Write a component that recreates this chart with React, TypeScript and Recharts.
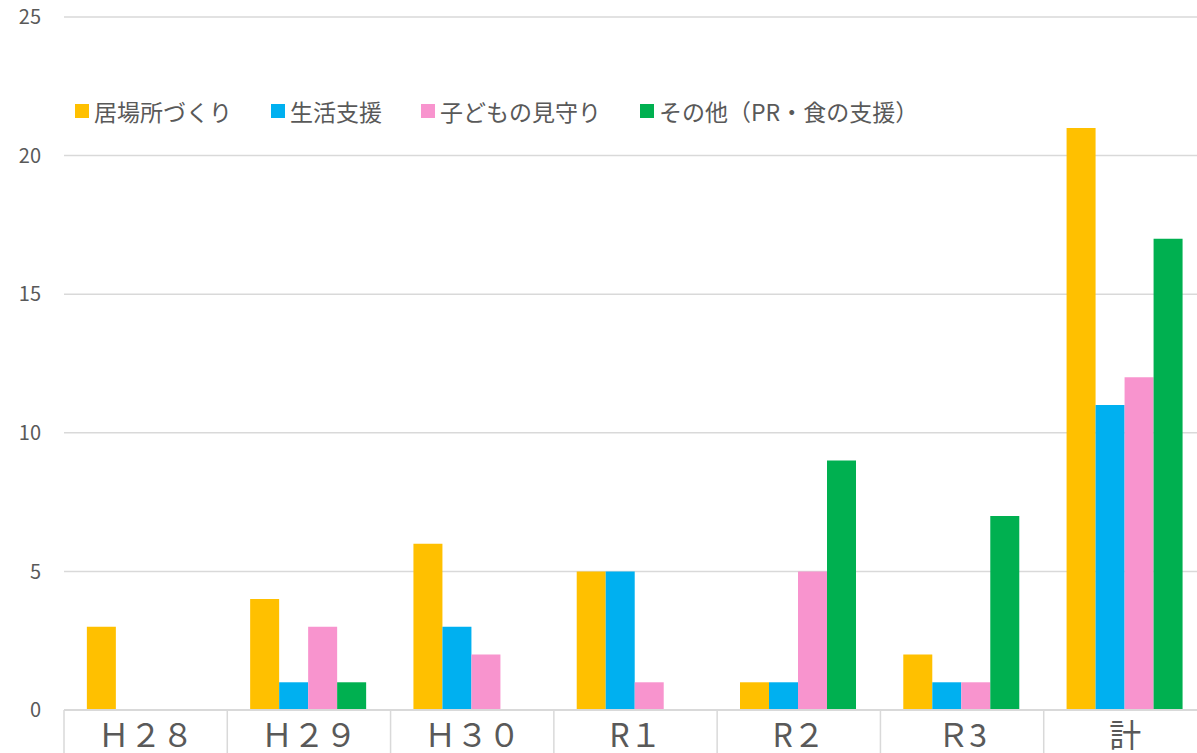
import React from 'react';
import { BarChart, Bar, XAxis, YAxis, CartesianGrid, Legend } from 'recharts';

const categories = ['Ｈ２８', 'Ｈ２９', 'Ｈ３０', 'R１', 'R２', 'Ｒ3', '計'];
const ibasho = [3, 4, 6, 5, 1, 2, 21];
const seikatsu = [0, 1, 3, 5, 1, 1, 11];
const mimamori = [0, 3, 2, 1, 5, 1, 12];
const sonota = [0, 1, 0, 0, 9, 7, 17];
const yTicks = [0, 5, 10, 15, 20, 25];

const seriesNames = ['居場所づくり', '生活支援', '子どもの見守り', 'その他（PR・食の支援）'];
const seriesColors = ['#FFC000', '#00B0F0', '#F894CE', '#00B050'];

const data = categories.map((c, i) => ({
  name: c,
  s0: ibasho[i],
  s1: seikatsu[i],
  s2: mimamori[i],
  s3: sonota[i],
}));

const FONT = '"Noto Sans CJK JP", "Noto Sans", sans-serif';
const CHART_W = 1215;
const CHART_H = 770;
const LEFT = 64;
const RIGHT_M = 8;
const BAND = (CHART_W - LEFT - RIGHT_M) / categories.length;

const XTick = (props: any) => {
  const { x, y, payload, index } = props;
  const last = index === categories.length - 1;
  return (
    <g>
      <line x1={x - BAND / 2} x2={x - BAND / 2} y1={y} y2={y + 60} stroke="#d9d9d9" strokeWidth={1.5} />
      {last && <line x1={x + BAND / 2} x2={x + BAND / 2} y1={y} y2={y + 60} stroke="#d9d9d9" strokeWidth={1.5} />}
      <text x={x} y={y + 37} textAnchor="middle" fill="#595959" fontSize={32} fontFamily={FONT}>
        {payload.value}
      </text>
    </g>
  );
};

const LegendContent = (props: any) => {
  const items = [...(props.payload || [])].sort(
    (a: any, b: any) => seriesNames.indexOf(a.value) - seriesNames.indexOf(b.value)
  );
  return (
    <div style={{ display: 'flex', alignItems: 'center', fontFamily: FONT, fontSize: 23, color: '#595959', whiteSpace: 'nowrap' }}>
      {items.map((p: any, i: number) => (
        <div key={i} style={{ display: 'flex', alignItems: 'center', marginRight: 39 }}>
          <div style={{ width: 14, height: 14, background: p.color, marginRight: 5 }} />
          <span style={{ lineHeight: '30px' }}>{p.value}</span>
        </div>
      ))}
    </div>
  );
};

export default function App() {
  return (
    <div style={{ position: 'absolute', left: 0, top: 0, width: 1197, height: 753, overflow: 'hidden', background: '#fff' }}>
      <BarChart
        width={CHART_W}
        height={CHART_H}
        data={data}
        margin={{ top: 17, right: RIGHT_M, bottom: 0, left: 0 }}
        barCategoryGap="14%"
        barGap={0}
      >
        <CartesianGrid vertical={false} stroke="#d9d9d9" strokeWidth={1.5} />
        <XAxis
          dataKey="name"
          height={60}
          tickLine={false}
          tickSize={0}
          tickMargin={0}
          axisLine={{ stroke: '#d9d9d9', strokeWidth: 2 }}
          tick={<XTick />}
          interval={0}
        />
        <YAxis
          width={LEFT}
          domain={[0, 25]}
          ticks={yTicks}
          tickLine={false}
          axisLine={false}
          tickSize={6}
          tickMargin={17}
          tick={{ fill: '#595959', fontSize: 20, fontFamily: FONT }}
        />
        <Legend
          layout="horizontal"
          verticalAlign="middle"
          align="center"
          itemSorter={null as any}
          content={<LegendContent />}
          wrapperStyle={{ position: 'absolute', top: 96, left: 75, width: 'auto' }}
        />
        {['s0', 's1', 's2', 's3'].map((k, i) => (
          <Bar key={k} dataKey={k} name={seriesNames[i]} fill={seriesColors[i]} isAnimationActive={false} />
        ))}
      </BarChart>
    </div>
  );
}
